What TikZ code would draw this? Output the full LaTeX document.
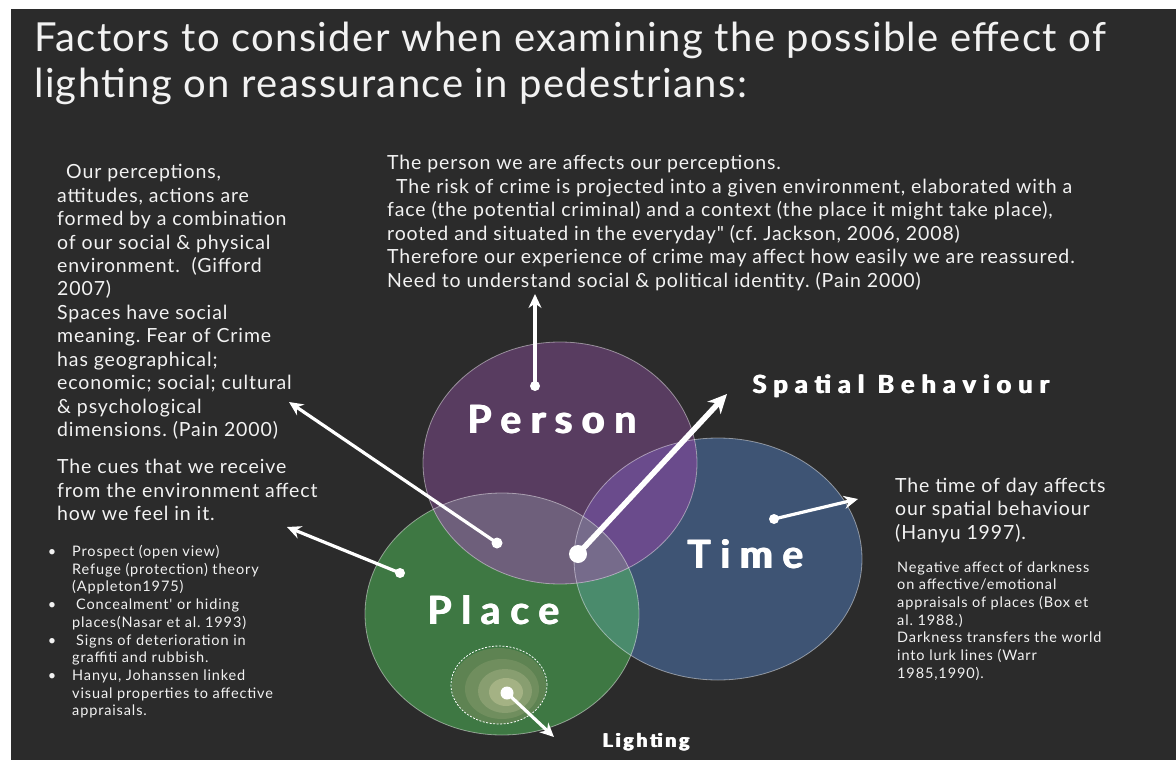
\documentclass[tikz,border=0pt]{standalone}
\usepackage{fontspec}
\usepackage{graphicx}
\setmainfont{Lato}
\newfontfamily\titlefont{Lato}[LetterSpace=3.4]
\newfontfamily\bodyfont{Lato}[LetterSpace=4.5]
\newfontfamily\smallfont{Lato}[LetterSpace=6]
\newfontfamily\spacedfont{Lato}[LetterSpace=25]
\newfontfamily\wideSB{Lato}[LetterSpace=29]
\newfontfamily\lightfont{Lato}[LetterSpace=16]
\usetikzlibrary{arrows.meta}
\definecolor{bg}{HTML}{2B2B2B}
\definecolor{txt}{HTML}{F2F2F2}
\definecolor{placeC}{HTML}{3E7843}
\definecolor{timeC}{HTML}{3E5474}
\definecolor{personC}{HTML}{583C60}
\definecolor{plC}{HTML}{6E5F7B}
\definecolor{ptC}{HTML}{6A4B8C}
\definecolor{ltC}{HTML}{4A8B6C}
\definecolor{pltC}{HTML}{766B8B}
\definecolor{ringA}{HTML}{5E8352}
\definecolor{ringB}{HTML}{708E5E}
\definecolor{ringC}{HTML}{889E70}
\definecolor{ringD}{HTML}{A4B284}
\newcommand{\heavy}[1]{\rlap{\hspace{0.7pt}#1}\rlap{\hspace{1.4pt}#1}#1}
\newcommand{\bul}{\llap{\textbullet\hspace{16pt}}}
\frenchspacing
\begin{document}
\begin{tikzpicture}[x=1pt,y=-1pt,
  title/.style={text=txt,inner sep=0pt,font=\fontsize{40}{46}\titlefont},
  body/.style={text=txt,inner sep=0pt,anchor=base west,font=\fontsize{19.5}{23.5}\bodyfont},
  small/.style={text=txt,inner sep=0pt,anchor=base west,font=\fontsize{14.5}{17.7}\smallfont},
  big/.style={text=white,inner sep=0pt,anchor=base west,font=\fontsize{39}{40}\spacedfont\bfseries},
  arr/.style={white,line width=3.2pt,-{Stealth[length=14pt,width=13pt]}},
  bigarr/.style={white,line width=5.5pt,-{Stealth[length=19pt,width=18pt]}},
  rim/.style={draw=white,draw opacity=0.45,line width=0.8pt}]
\useasboundingbox (0,0) rectangle (1176,760);
\fill[white] (0,0) rectangle (1176,760);
\fill[bg] (11,9) rectangle (1176,760);

% Title
\node[title,anchor=base west] (t1) at (34,52) {Factors to consider when examining the possible effect of};
\node[title,anchor=base west] (t2) at (34,97) {lighting on reassurance in pedestrians:};

% Venn circles
\fill[placeC] (502,614) ellipse [x radius=137pt,y radius=121pt];
\fill[timeC] (718,559) ellipse [x radius=144pt,y radius=121pt];
\fill[personC] (560,463) ellipse [x radius=137pt,y radius=121pt];
\begin{scope}
  \clip (502,614) ellipse [x radius=137pt,y radius=121pt];
  \fill[ltC] (718,559) ellipse [x radius=144pt,y radius=121pt];
  \fill[plC] (560,463) ellipse [x radius=137pt,y radius=121pt];
  \clip (718,559) ellipse [x radius=144pt,y radius=121pt];
  \fill[pltC] (560,463) ellipse [x radius=137pt,y radius=121pt];
\end{scope}
\begin{scope}
  \clip (718,559) ellipse [x radius=144pt,y radius=121pt];
  \clip (560,463) ellipse [x radius=137pt,y radius=121pt];
  \fill[ptC] (560,463) ellipse [x radius=137pt,y radius=121pt];
  \clip (502,614) ellipse [x radius=137pt,y radius=121pt];
  \fill[pltC] (560,463) ellipse [x radius=137pt,y radius=121pt];
\end{scope}
\draw[rim] (502,614) ellipse [x radius=137pt,y radius=121pt];
\draw[rim] (718,559) ellipse [x radius=144pt,y radius=121pt];
\draw[rim] (560,463) ellipse [x radius=137pt,y radius=121pt];

% Lighting spot
\fill[ringA] (499,686) ellipse [x radius=47pt,y radius=38pt];
\fill[ringB] (502,689) ellipse [x radius=37pt,y radius=30pt];
\fill[ringC] (505,691) ellipse [x radius=27pt,y radius=22pt];
\fill[ringD] (506,692) ellipse [x radius=17pt,y radius=14pt];
\draw[white,line width=0.8pt,dash pattern=on 2pt off 1.5pt] (499,685) ellipse [x radius=48pt,y radius=39pt];

% Venn labels
\node[big] (person) at (467,433) {\heavy{Person}};
\node[big] (time) at (687,568) {\heavy{Time}};
\node[big] (place) at (427,624) {\heavy{Place}};
\node[text=white,inner sep=0pt,anchor=base west,font=\fontsize{25}{26}\wideSB\bfseries] (spatial) at (752,393) {\heavy{Spatial Behaviour}};
\node[text=white,inner sep=0pt,anchor=base west,font=\fontsize{19}{20}\lightfont\bfseries] (lighting) at (602,747) {\heavy{Lighting}};

% Connectors
\coordinate (dPerson) at (535,386);  \coordinate (ePerson) at (535,294);
\coordinate (dPP) at (497,543);      \coordinate (ePP) at (289,402);
\coordinate (dMid) at (578,554);     \coordinate (eMid) at (727,394);
\coordinate (dTime) at (774,519);    \coordinate (eTime) at (858,499);
\coordinate (dPlace) at (400,573);   \coordinate (ePlace) at (287,527);
\coordinate (dLight) at (507,693);   \coordinate (eLight) at (554,737);
\draw[arr] (dPerson) -- (ePerson);
\draw[arr] (dPP) -- (ePP);
\draw[bigarr] (dMid) -- (eMid);
\draw[arr] (dTime) -- (eTime);
\draw[arr] (dPlace) -- (ePlace);
\draw[arr] (dLight) -- (eLight);
\fill[white] (dPerson) circle (5pt);
\fill[white] (dPP) circle (5.5pt);
\fill[white] (dMid) circle (9pt);
\fill[white] (dTime) circle (5pt);
\fill[white] (dPlace) circle (5pt);
\fill[white] (dLight) circle (6.5pt);

% Text blocks
\node[body] (topblock) at (387,169.5) {\begin{tabular}[t]{@{}l@{}}
The person we are affects our perceptions.\\
\hspace{9pt}The risk of crime is projected into a given environment, elaborated with a\\
face (the potential criminal) and a context (the place it might take place),\\
rooted and situated in the everyday" (cf. Jackson, 2006, 2008)\\
Therefore our experience of crime may affect how easily we are reassured.\\
Need to understand social \& political identity. (Pain 2000)
\end{tabular}};

\node[body] (leftblock) at (57,178.5) {\begin{tabular}[t]{@{}l@{}}
\hspace{9pt}Our perceptions,\\
attitudes, actions are\\
formed by a combination\\
of our social \& physical\\
environment.\ \ (Gifford\\
2007)\\
Spaces have social\\
meaning. Fear of Crime\\
has geographical;\\
economic; social; cultural\\
\& psychological\\
dimensions. (Pain 2000)
\end{tabular}};

\node[body] (cues) at (57,473.5) {\begin{tabular}[t]{@{}l@{}}
The cues that we receive\\
from the environment affect\\
how we feel in it.
\end{tabular}};

\node[small] (bullets) at (72,556.5) {\begin{tabular}[t]{@{}l@{}}
\bul Prospect (open view)\\
Refuge (protection) theory\\
(Appleton1975)\\
\bul\hspace{4pt}Concealment' or hiding\\
places(Nasar et al. 1993)\\
\bul\hspace{4pt}Signs of deterioration in\\
graffiti and rubbish.\\
\bul Hanyu, Johanssen linked\\
visual properties to affective\\
appraisals.
\end{tabular}};

\node[body] (timeblock) at (895,492) {\begin{tabular}[t]{@{}l@{}}
The time of day affects\\
our spatial behaviour\\
(Hanyu 1997).
\end{tabular}};

\node[small] (darkblock) at (897,572) {\begin{tabular}[t]{@{}l@{}}
Negative affect of darkness\\
on affective/emotional\\
appraisals of places (Box et\\
al. 1988.)\\
Darkness transfers the world\\
into lurk lines (Warr\\
1985,1990).
\end{tabular}};
\end{tikzpicture}
\end{document}
